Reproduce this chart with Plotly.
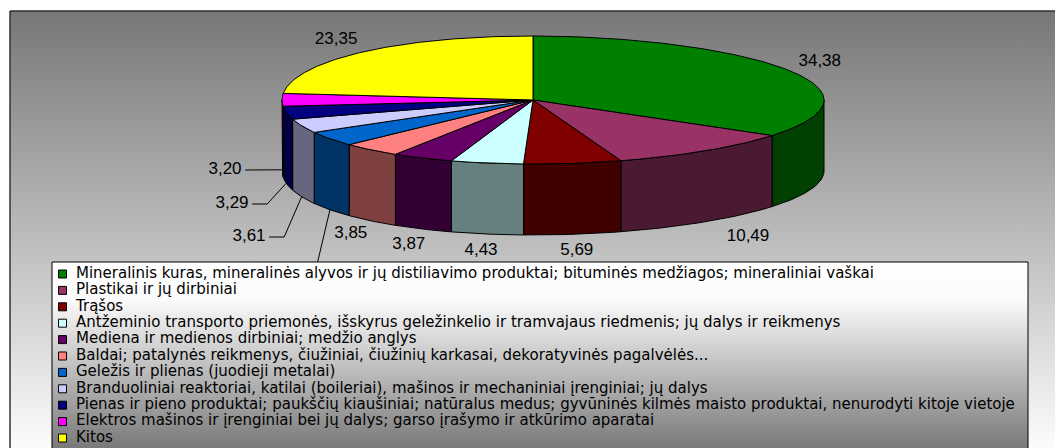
import numpy as np
import plotly.graph_objects as go

# ---------------- data ----------------
categories = [
    "Mineralinis kuras, mineralinės alyvos ir jų distiliavimo produktai; bituminės medžiagos; mineraliniai vaškai",
    "Plastikai ir jų dirbiniai",
    "Trąšos",
    "Antžeminio transporto priemonės, išskyrus geležinkelio ir tramvajaus riedmenis; jų dalys ir reikmenys",
    "Mediena ir medienos dirbiniai; medžio anglys",
    "Baldai; patalynės reikmenys, čiužiniai, čiužinių karkasai, dekoratyvinės pagalvėlės...",
    "Geležis ir plienas (juodieji metalai)",
    "Branduoliniai reaktoriai, katilai (boileriai), mašinos ir mechaniniai įrenginiai; jų dalys",
    "Pienas ir pieno produktai; paukščių kiaušiniai; natūralus medus; gyvūninės kilmės maisto produktai, nenurodyti kitoje vietoje",
    "Elektros mašinos ir įrenginiai bei jų dalys; garso įrašymo ir atkūrimo aparatai",
    "Kitos",
]
values = [34.38, 10.49, 5.69, 4.43, 3.87, 3.85, 3.84, 3.61, 3.29, 3.20, 23.35]
value_labels = [f"{v:.2f}".replace(".", ",") for v in values]
# the label of this slice is hidden behind the legend box in the reference
hidden_labels = {6}

# ---------------- styles ----------------
top_colors = ["#008000", "#993366", "#800000", "#ccffff", "#660066", "#ff8080",
              "#0066cc", "#ccccff", "#000080", "#ff00ff", "#ffff00"]


def darker(hex_color, f=0.5):
    h = hex_color.lstrip("#")
    r, g, b = (int(h[i:i + 2], 16) for i in (0, 2, 4))
    return "#%02x%02x%02x" % (int(r * f), int(g * f), int(b * f))


side_colors = [darker(c) for c in top_colors]

FONT = "Liberation Sans, Arial, sans-serif"
LEG_FONT = "DejaVu Sans, sans-serif"
W, H = 1055, 448
CX, CY, RX, RY, DEPTH, SKEW = 553, 100, 271, 64, 71, 20
GAP_X, GAP_Y, HALF_H = 15, 10, 7
LEG_X0, LEG_Y0, LEG_X1, LEG_Y1 = 52, 262, 1028, 470
LEG_ROW0, LEG_STEP, LEG_MARK_X, LEG_TEXT_X = 274, 16.4, 62.5, 76
# labels that Excel moved away from their default spot (centre of the text)
label_override = {1: (748, 237), 6: (277, 285), 7: (249, 237), 8: (232, 204), 9: (225, 170)}
leader = {6, 7, 8, 9}


def pt(theta_deg):
    t = np.radians(theta_deg)
    return CX + RX * np.sin(t) - SKEW * np.cos(t) ** 2, CY - RY * np.cos(t)


def arc(a0, a1):
    n = max(2, int(abs(a1 - a0) / 0.75) + 2)
    th = np.linspace(a0, a1, n)
    return pt(th)


total = sum(values)
cum = np.concatenate([[0], np.cumsum(values)]) / total * 360.0
centre = (CX - SKEW, CY)

fig = go.Figure()

# chart-area background (gradient)
fig.add_trace(go.Scatter(
    x=[10, W + 10, W + 10, 10, 10], y=[11, 11, H + 20, H + 20, 11],
    mode="lines", fill="toself", line=dict(color="#333333", width=1.5),
    fillgradient=dict(type="vertical", colorscale=[[0, "#777777"], [1, "#ffffff"]],
                      start=11, stop=H + 10),
    hoverinfo="skip", showlegend=False))

# walls (front half)
for i in range(len(values)):
    a0, a1 = max(cum[i], 90.0), min(cum[i + 1], 270.0)
    if a1 <= a0:
        continue
    xs, ys = arc(a0, a1)
    px = list(xs) + list(xs[::-1]) + [xs[0]]
    py = list(ys) + list((ys + DEPTH)[::-1]) + [ys[0]]
    fig.add_trace(go.Scatter(x=px, y=py, mode="lines", fill="toself",
                             fillcolor=side_colors[i], line=dict(color="black", width=1),
                             hoverinfo="skip", showlegend=False))

# top faces
for i in range(len(values)):
    xs, ys = arc(cum[i], cum[i + 1])
    px = [centre[0]] + list(xs) + [centre[0]]
    py = [centre[1]] + list(ys) + [centre[1]]
    fig.add_trace(go.Scatter(x=px, y=py, mode="lines", fill="toself",
                             fillcolor=top_colors[i], line=dict(color="black", width=1),
                             hoverinfo="skip", showlegend=False))

# data labels
lab_x, lab_y, lab_t = [], [], []
for i, v in enumerate(values):
    mid = (cum[i] + cum[i + 1]) / 2
    t = np.radians(mid)
    s, c = np.sin(t), np.cos(t)
    bx, by = pt(mid)
    if c < 0:
        by += DEPTH
    hw = 4.3 * len(value_labels[i])
    if i in label_override:
        lx, ly = label_override[i]
    else:
        lx = bx + GAP_X * s + hw * s
        ly = by - GAP_Y * c - HALF_H * c
    if i not in hidden_labels:
        lab_x.append(lx)
        lab_y.append(ly)
        lab_t.append(value_labels[i])
    if i in leader:
        ax, ay = pt(mid)
        ay += DEPTH - 1
        xs0 = lx + hw + 3
        xe = lx + hw + 18
        fig.add_trace(go.Scatter(x=[xs0, xe, ax], y=[ly, ly, ay], mode="lines",
                                 line=dict(color="black", width=1),
                                 hoverinfo="skip", showlegend=False))

fig.add_trace(go.Scatter(x=lab_x, y=lab_y, mode="text", text=lab_t,
                         textposition="middle center",
                         textfont=dict(family=FONT, size=17, color="black"),
                         hoverinfo="skip", showlegend=False))

# legend box
fig.add_trace(go.Scatter(
    x=[LEG_X0, LEG_X1, LEG_X1, LEG_X0, LEG_X0], y=[LEG_Y0, LEG_Y0, LEG_Y1, LEG_Y1, LEG_Y0],
    mode="lines", fill="toself", line=dict(color="black", width=1),
    fillgradient=dict(type="vertical",
                      colorscale=[[0, "#ffffff"], [0.2, "#fbfbfb"], [1, "#7a7a7a"]],
                      start=LEG_Y0, stop=LEG_Y0 + 185),
    hoverinfo="skip", showlegend=False))

rows = [LEG_ROW0 + LEG_STEP * i for i in range(len(categories))]
fig.add_trace(go.Scatter(x=[LEG_MARK_X] * len(categories), y=rows, mode="markers",
                         marker=dict(symbol="square", size=8, color=top_colors,
                                     line=dict(color="black", width=1)),
                         hoverinfo="skip", showlegend=False))
fig.add_trace(go.Scatter(x=[LEG_TEXT_X] * len(categories), y=rows, mode="text",
                         text=categories, textposition="middle right",
                         textfont=dict(family=LEG_FONT, size=15, color="black"),
                         hoverinfo="skip", showlegend=False))

fig.update_layout(
    width=W, height=H, autosize=False,
    margin=dict(l=0, r=0, t=0, b=0),
    paper_bgcolor="white", plot_bgcolor="white",
    xaxis=dict(range=[0, W], visible=False, fixedrange=True),
    yaxis=dict(range=[H, 0], visible=False, fixedrange=True),
    showlegend=False,
)

fig.write_html("out.html", config={"displayModeBar": False},
               post_script="document.body.style.margin='0';")
